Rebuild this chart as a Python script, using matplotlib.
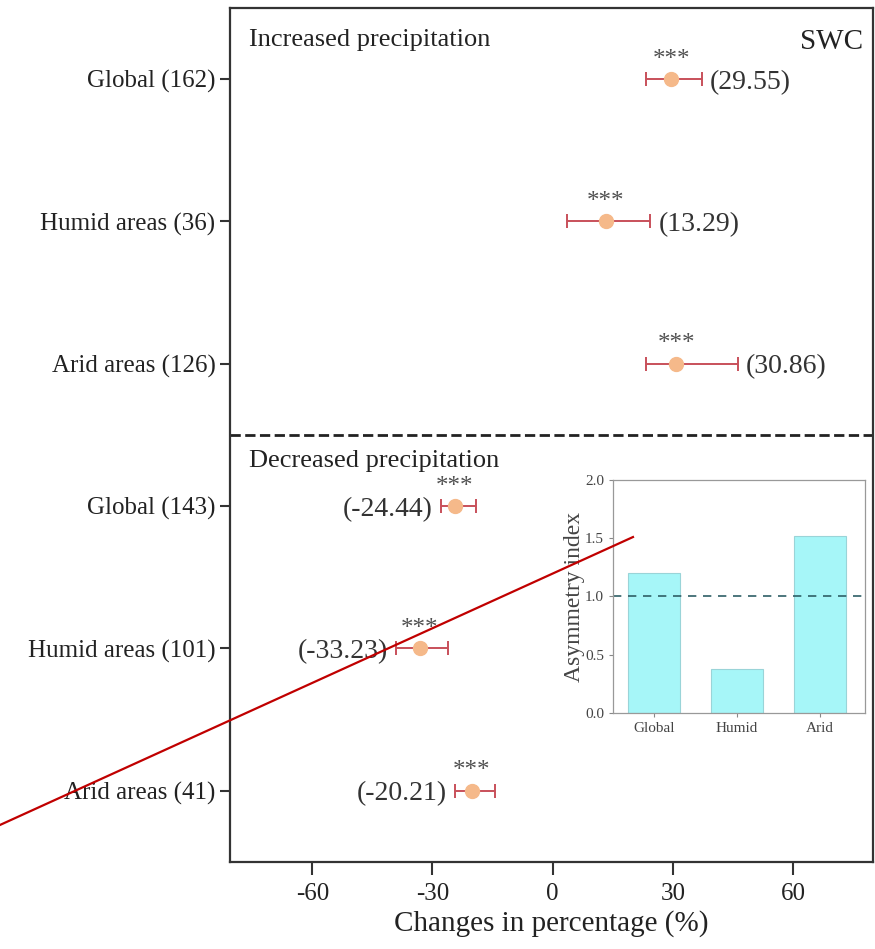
import numpy as np
import matplotlib
matplotlib.use('Agg')
import matplotlib.pyplot as plt
from matplotlib.lines import Line2D

plt.rcParams['font.family'] = ['Liberation Serif', 'DejaVu Serif']

# data
row_labels = ['Global (162)', 'Humid areas (36)', 'Arid areas (126)',
              'Global (143)', 'Humid areas (101)', 'Arid areas (41)']
means = [29.55, 13.29, 30.86, -24.44, -33.23, -20.21]
ci_low = [23.2, 3.5, 23.2, -27.9, -39.1, -24.4]
ci_high = [37.3, 24.4, 46.3, -19.2, -26.1, -14.4]
signif = ['***', '***', '***', '***', '***', '***']

inset_cats = ['Global', 'Humid', 'Arid']
inset_vals = [1.20, 0.38, 1.52]

fig = plt.figure(figsize=(8.75, 9.49), dpi=100)
ax = fig.add_axes([0.263, 0.0917, 0.735, 0.8999])

ypos = np.arange(len(means), 0, -1)  # 6..1 top to bottom
for y, m, lo, hi, s in zip(ypos, means, ci_low, ci_high, signif):
    ax.errorbar(m, y, xerr=[[m - lo], [hi - m]], fmt='o', color='#f5b98a',
                ecolor='#c8505a', elinewidth=1.4, capsize=5, capthick=1.4,
                markersize=10, zorder=3)
    ax.text(m, y + 0.06, s, ha='center', va='bottom', fontsize=18, color='#505050')
    if m > 0:
        ax.text(hi + 2.0, y, '(%.2f)' % m, ha='left', va='center_baseline', fontsize=20, color='#333333')
    else:
        ax.text(lo - 2.0, y, '(%.2f)' % m, ha='right', va='center_baseline', fontsize=20, color='#333333')

ax.axhline(3.5, color='#222222', ls='--', lw=2)
ax.set_xlim(-80.5, 80)
ax.set_ylim(0.5, 6.5)
ax.set_yticks(ypos)
ax.set_yticklabels(row_labels)
ax.set_xticks([-60, -30, 0, 30, 60])
ax.set_xticklabels(['-60', '-30', '0', '30', '60'])
ax.tick_params(axis='y', labelsize=18, length=7, width=1.5, colors='#333333', labelcolor='#222222')
ax.tick_params(axis='x', labelsize=18, length=9, width=1.5, pad=6, colors='#333333', labelcolor='#222222')
ax.set_xlabel('Changes in percentage (%)', fontsize=21, color='#222222', labelpad=4)
for sp in ax.spines.values():
    sp.set_linewidth(1.6)
    sp.set_color('#333333')

ax.text(0.03, 0.975, 'Increased precipitation', transform=ax.transAxes,
        ha='left', va='top', fontsize=19, color='#222222')
ax.text(0.03, 0.482, 'Decreased precipitation', transform=ax.transAxes,
        ha='left', va='top', fontsize=19, color='#222222')
ax.text(0.985, 0.975, 'SWC', transform=ax.transAxes,
        ha='right', va='top', fontsize=21, color='#222222')

# inset
ins = fig.add_axes([0.7006, 0.2487, 0.288, 0.2455])
ins.bar(np.arange(len(inset_vals)), inset_vals, width=0.63,
        color='#a6f6f8', edgecolor='#9ad4d8', linewidth=0.8)
ins.axhline(1.0, color='#2f5f66', ls='--', lw=1.2, dashes=(5, 4))
ins.set_xlim(-0.5, 2.55)
ins.set_ylim(0, 2.0)
ins.set_yticks([0.0, 0.5, 1.0, 1.5, 2.0])
ins.set_yticklabels(['0.0', '0.5', '1.0', '1.5', '2.0'])
ins.set_xticks(np.arange(len(inset_cats)))
ins.set_xticklabels(inset_cats)
ins.tick_params(labelsize=11, length=3, colors='#888888', labelcolor='#444444')
ins.set_ylabel('Asymmetry index', fontsize=17, color='#444444', labelpad=0)
for sp in ins.spines.values():
    sp.set_color('#999999')
    sp.set_linewidth(0.9)

# red stroke drawn across the figure
fig.add_artist(Line2D([0.0, 0.7234], [0.1307, 0.4341], transform=fig.transFigure,
                      color='#c00000', lw=1.6, zorder=10))

fig.savefig('out.png', dpi=100)
